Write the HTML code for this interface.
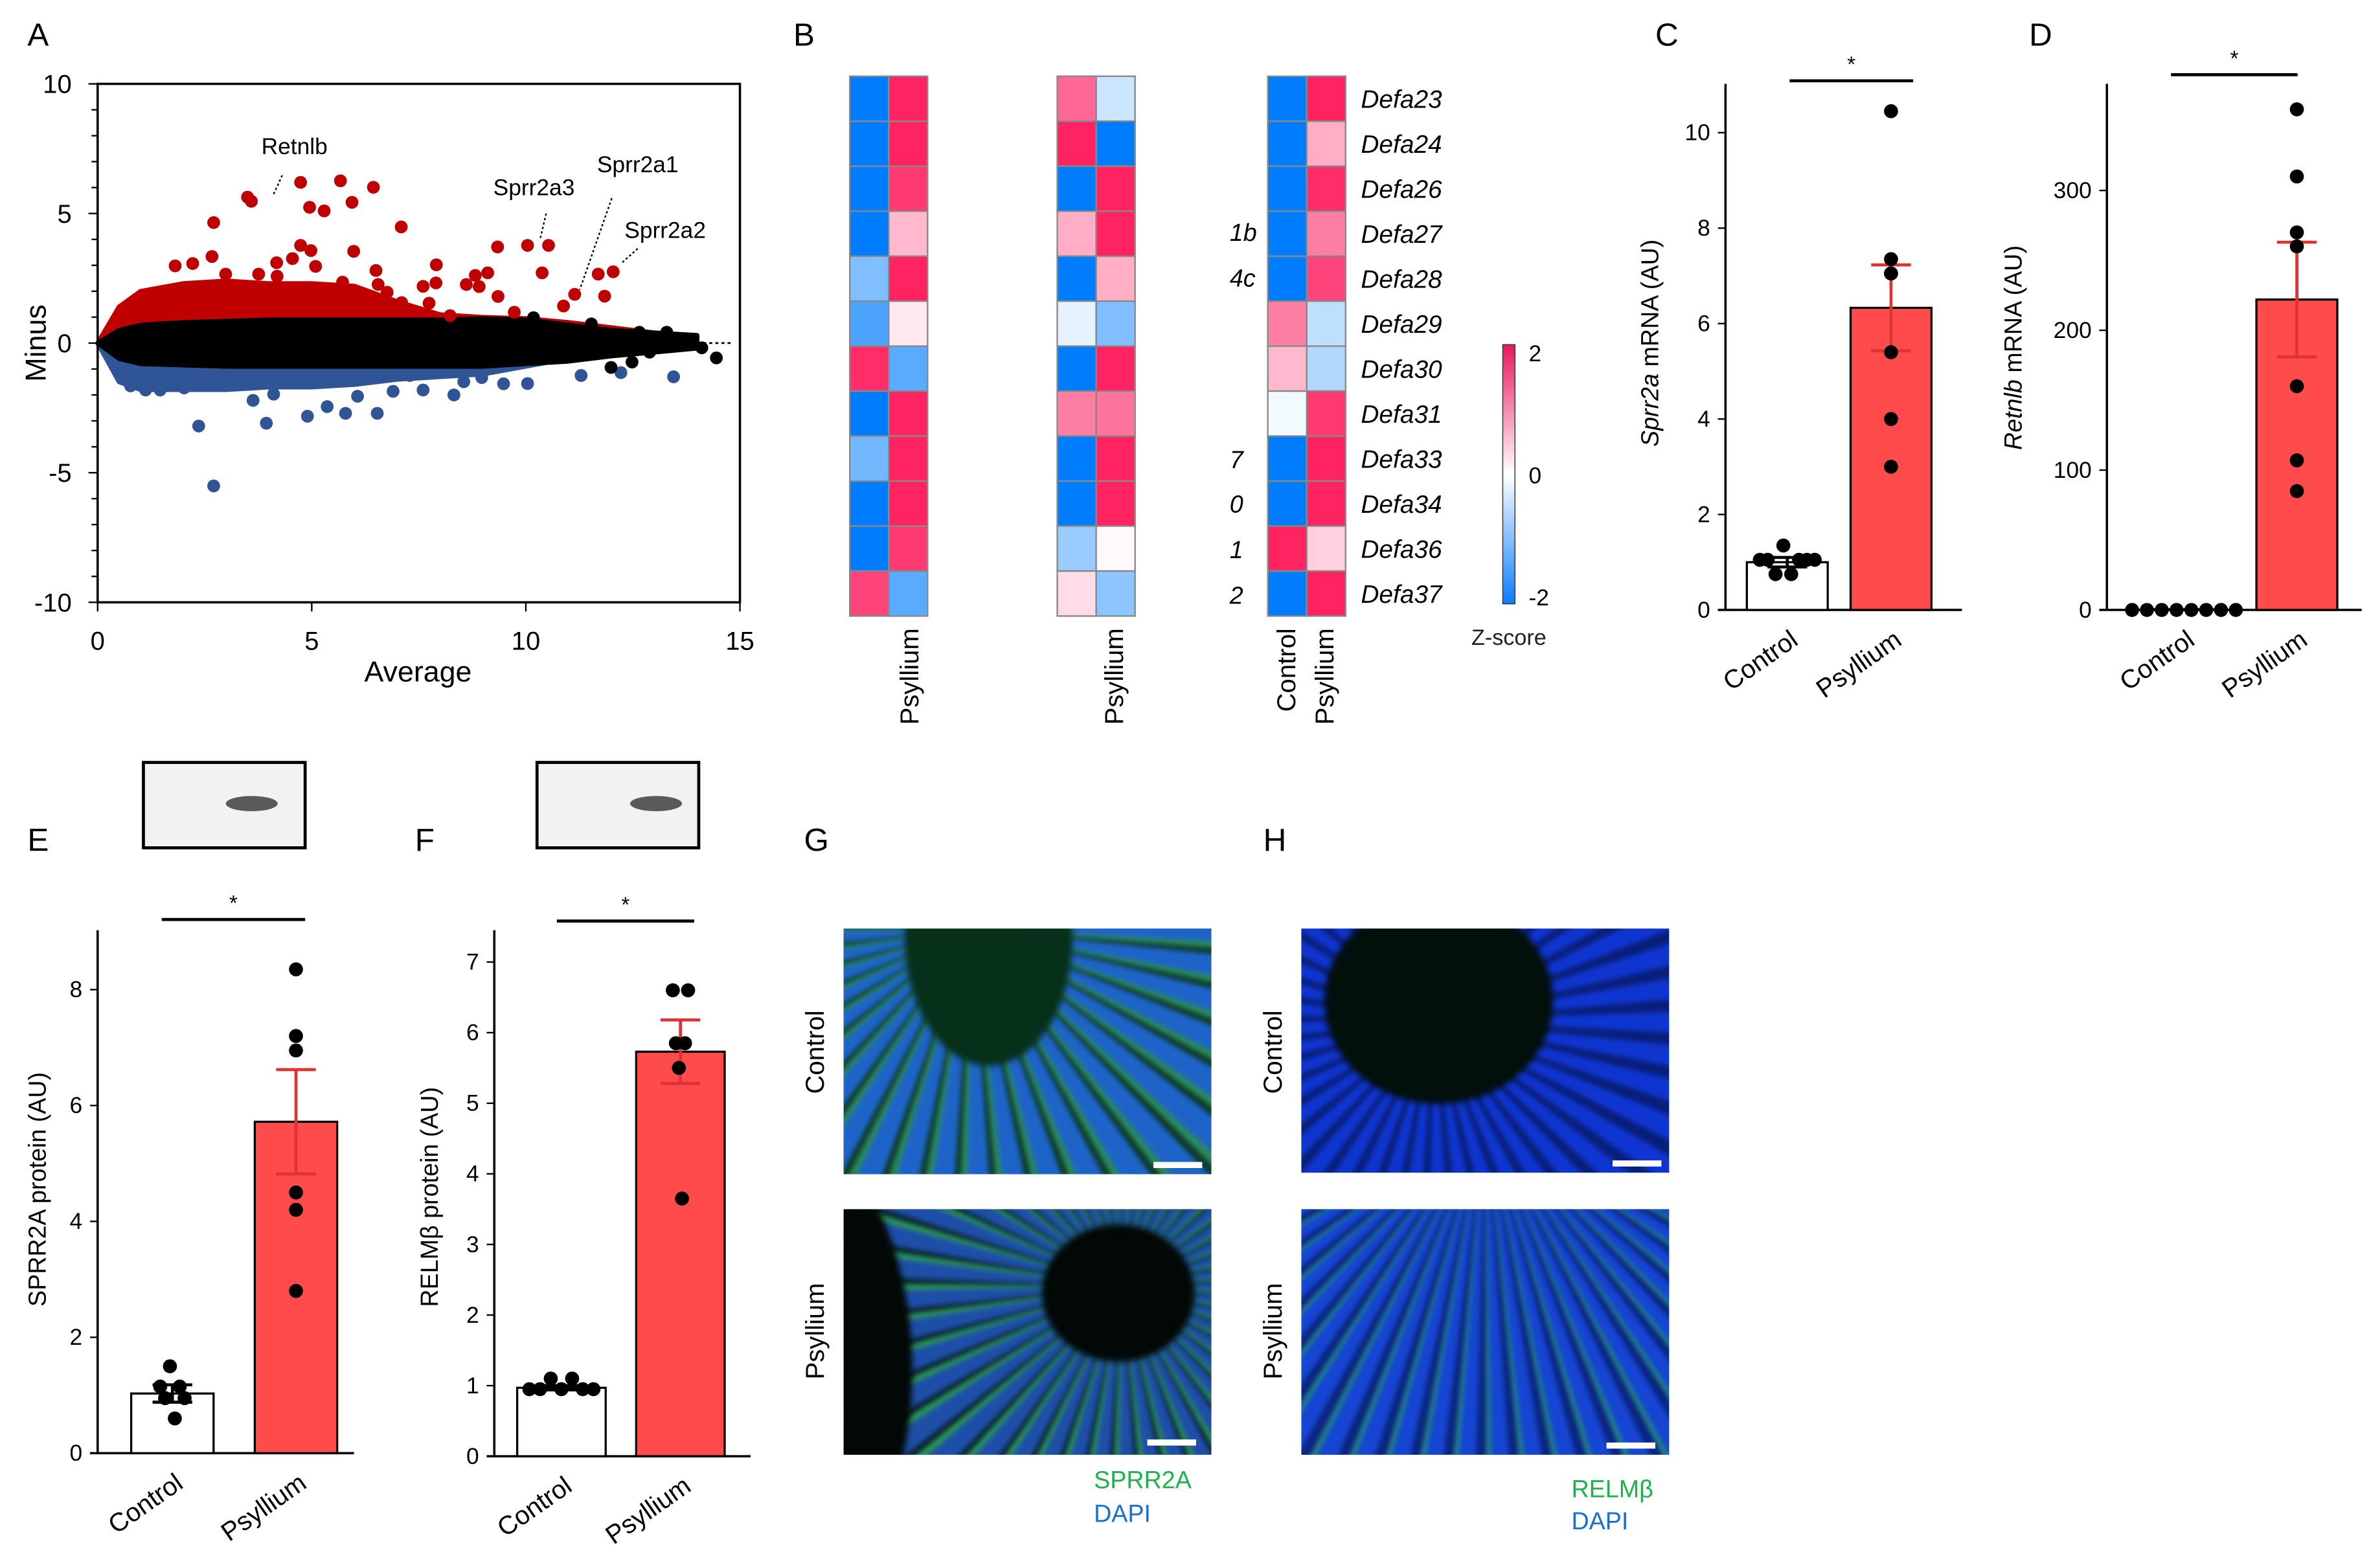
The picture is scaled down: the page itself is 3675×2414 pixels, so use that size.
<!DOCTYPE html>
<html><head><meta charset="utf-8"><style>
html,body{margin:0;padding:0;background:#fff;overflow:hidden}
#wrap{position:absolute;left:0;top:0;width:1560px;height:1025px;transform-origin:0 0;transform:scale(2.35577,2.3551);font-family:"Liberation Sans",sans-serif}
svg{position:absolute;left:0;top:0}
.img{position:absolute;overflow:hidden}
.st{position:absolute;left:-20px;top:-20px;right:-20px;bottom:-20px;filter:blur(1.6px)}
.lum{position:absolute;border-radius:50%;filter:blur(2px)}
</style></head><body>
<div id="wrap">
<div class="img" style="left:553px;top:609px;width:241px;height:161px;background:#1b5a8a">
<div class="st" style="background:repeating-conic-gradient(from 0deg at 37% 10%, #1e64c8 0deg 5deg, #2a8a5a 5deg 6.5deg, #0c3a28 6.5deg 8deg)"></div>
<div class="lum" style="left:40px;top:-80px;width:110px;height:170px;background:#07301a"></div></div>
<div class="img" style="left:553px;top:793px;width:241px;height:161px;background:#16407a">
<div class="st" style="background:repeating-conic-gradient(from 0deg at 72% 35%, #1e4fa8 0deg 5deg, #2a9a55 5deg 6.5deg, #0a2230 6.5deg 8deg)"></div>
<div class="lum" style="left:-150px;top:-60px;width:195px;height:330px;background:#020805"></div>
<div class="lum" style="left:130px;top:10px;width:100px;height:90px;background:#020805"></div></div>
<div class="img" style="left:853px;top:609px;width:241px;height:160px;background:#0c2aa0">
<div class="st" style="background:repeating-conic-gradient(from 0deg at 38% 40%, #0f35d0 0deg 5deg, #081f78 5deg 8deg)"></div>
<div class="lum" style="left:15px;top:-20px;width:150px;height:135px;background:#01100a"></div></div>
<div class="img" style="left:853px;top:793px;width:241px;height:161px;background:#1236b8">
<div class="st" style="background:repeating-conic-gradient(from 0deg at 50% -20%, #1545d2 0deg 3deg, #248a80 3deg 3.8deg, #0a2580 3.8deg 5.5deg)"></div></div>
<svg id="s" width="1560" height="1025" viewBox="0 0 1560 1025"></svg>
</div>
<script>
// ---- Panel A data ----
const maAvg=[0,0.5,1,2,3,4,5,6,7,8,9,10,11,12,13,14];
const redUp=[0,1.4,2.0,2.3,2.4,2.3,2.3,2.2,1.6,1.1,1.0,0.95,0.8,0.6,0.4,0.3];
const blkUp=[0,0.5,0.7,0.8,0.85,0.9,0.9,0.9,0.9,0.9,0.95,0.9,0.7,0.5,0.4,0.3];
const blkLo=[0,-0.6,-0.8,-0.85,-0.9,-0.9,-0.9,-0.9,-0.9,-0.9,-0.9,-0.8,-0.7,-0.5,-0.35,-0.2];
const bluLo=[0,-1.5,-1.8,-1.8,-1.8,-1.7,-1.7,-1.6,-1.4,-1.3,-1.2,-0.9,-0.6,-0.5,-0.3,-0.2];
const redX=[4.74,5.67,6.44,3.50,3.59,4.95,5.29,5.94,2.71,7.09,4.74,4.98,5.98,9.34,10.04,10.53,10.38,12.04,11.69,11.84,11.14,10.88,2.67,4.55,4.18,5.09,6.50,7.91,9.11,8.82,9.35,8.91,8.61,7.60,7.90,7.74,9.73,8.23,7.10,2.22,1.81,2.99,3.76,4.19,5.72,6.55,6.76];
const redY=[6.20,6.26,6.01,5.63,5.47,5.24,5.10,5.43,4.65,4.48,3.77,3.57,3.54,3.71,3.77,3.77,2.71,2.75,2.66,1.81,1.88,1.43,3.34,3.26,3.10,2.96,2.80,3.02,2.71,2.61,1.80,2.18,2.26,2.19,2.32,1.54,1.19,1.06,1.56,3.07,2.98,2.66,2.66,2.58,2.35,2.26,1.96];
const bluX=[2.36,2.71,3.94,4.90,5.36,5.79,6.53,6.07,6.90,7.60,8.32,11.29,13.45,12.22,10.04,9.48,8.97,8.55,7.29,3.63,4.11,1.12,1.46,2.02,2.95,0.77];
const bluY=[-3.20,-5.51,-3.09,-2.82,-2.45,-2.71,-2.71,-2.05,-1.86,-1.81,-2.00,-1.25,-1.30,-1.14,-1.56,-1.57,-1.33,-1.49,-1.25,-2.21,-1.97,-1.81,-1.81,-1.73,-1.57,-1.65];
const bkX=[13.29,14.11,14.45,12.89,11.99,12.48,12.19,12.65,11.53,10.18];
const bkY=[0.42,-0.18,-0.57,-0.35,-0.94,-0.73,0.27,0.42,0.74,0.98];
// ---- Panel B data ----
const genes=["Defa23","Defa24","Defa26","Defa27","Defa28","Defa29","Defa30","Defa31","Defa33","Defa34","Defa36","Defa37"];
const hm1c=[-2,-2,-2,-2,-1,-1.4,1.8,-2,-1.1,-2,-2,1.6];
const hm1p=[1.9,1.9,1.7,0.6,1.9,0.2,-1.3,1.9,1.9,1.9,1.7,-1.3];
const hm2c=[1.3,1.9,-2,0.7,-2,-0.2,-2,1.1,-2,-2,-0.8,0.3];
const hm2p=[-0.4,-2,1.9,1.9,0.7,-1.0,1.9,1.2,1.9,1.9,0.05,-0.9];
const hm3c=[-2,-2,-2,-2,-2,1.1,0.6,-0.1,-2,-2,1.9,-2];
const hm3p=[1.9,0.7,1.8,1.1,1.6,-0.5,-0.6,1.7,1.9,1.9,0.4,1.9];
const zTicks=[2,0,-2];
// ---- Bar panels ----
const cMeans=[1.0,6.33], cErr=[0.1,0.9], cCtrl=[1.05,1.05,0.75,1.35,0.75,1.05,1.05,1.05], cPsy=[10.45,7.35,7.05,7.05,5.4,4.0,3.0];
const cTicks=[0,2,4,6,8,10];
const dMeans=[0.5,222], dErr=[0,41], dCtrl=[0,0,0,0,0,0,0,0], dPsy=[358,310,270,260,160,107,85];
const dTicks=[0,100,200,300];
const eMeans=[1.03,5.72], eErr=[0.15,0.9], eCtrl=[1.15,0.95,1.5,0.6,1.15,0.95], ePsy=[8.35,7.2,6.95,4.5,4.2,2.8];
const eTicks=[0,2,4,6,8];
const fMeans=[0.97,5.73], fErr=[0.03,0.45], fCtrl=[0.95,0.95,1.1,0.95,1.1,0.95,0.95], fPsy=[6.6,5.85,5.5,3.65,5.85,6.6];
const fTicks=[0,1,2,3,4,5,6,7];

const S=document.getElementById('s');const NS='http://www.w3.org/2000/svg';
function el(t,a,txt){const e=document.createElementNS(NS,t);for(const k in a)e.setAttribute(k,a[k]);if(txt!==undefined)e.textContent=txt;S.appendChild(e);return e;}
function T(x,y,s,o){return el('text',Object.assign({x:x,y:y,'font-size':16,fill:'#000'},o||{}),s);}
[["A",18,30],["B",520,30],["C",1085,30],["D",1330,30],["E",18,558],["F",272,558],["G",527,558],["H",828,558]].forEach(l=>{
const e=T(l[1],l[2],l[0],{'font-size':21});

});

// ---- Panel A ----
const ax=v=>64+v*(485-64)/15, ay=v=>225-v*17;
function band(up,lo,col,name){let d='M'+maAvg.map((a,i)=>ax(a)+','+ay(up[i])).join('L')+'L'+maAvg.slice().reverse().map((a,i)=>ax(a)+','+ay(lo[lo.length-1-i])).join('L')+'Z';
const p=el('path',{d:d,fill:col,stroke:col,'stroke-width':3,'stroke-linejoin':'round'});}
band(redUp,blkLo,'#c00000','red-point-cloud');
band(blkLo,bluLo,'#2f5597','blue-point-cloud');
band(blkUp,blkLo,'#000','black-point-cloud');
function pts(X,Y,col,name){X.forEach((x,i)=>{const c=el('circle',{cx:ax(x),cy:ay(Y[i]),r:4.2,fill:col});});}
pts(redX,redY,'#c00000','up-gene-point');pts(bluX,bluY,'#2f5597','down-gene-point');pts(bkX,bkY,'#000','ns-gene-point');
el('line',{x1:ax(13.0),y1:ay(0),x2:ax(14.8),y2:ay(0),stroke:'#000','stroke-width':1.2,'stroke-dasharray':'2,2'});
const fr=el('rect',{x:64,y:55,width:421,height:340,fill:'none',stroke:'#000','stroke-width':1.5});
for(let v=-10;v<=10;v++){const L=v%5==0?6:4;el('line',{x1:64-L,y1:ay(v),x2:64,y2:ay(v),stroke:'#000','stroke-width':1});}
[10,5,0,-5,-10].forEach(v=>T(47,ay(v)+6,String(v),{'text-anchor':'end','font-size':17}));
[0,5,10,15].forEach(v=>{el('line',{x1:ax(v),y1:395,x2:ax(v),y2:401,stroke:'#000'});T(ax(v),426,String(v),{'text-anchor':'middle','font-size':17});});
const xt=T(274,447,'Average',{'text-anchor':'middle','font-size':19});
const yt=T(30,225,'Minus',{'text-anchor':'middle','font-size':19,transform:'rotate(-90 30 225)'});
[["Retnlb",193,101,185,115,179,128],["Sprr2a3",350,128,358,140,354,157],["Sprr2a1",418,113,401,130,380,190],["Sprr2a2",436,156,418,163,408,172]].forEach(g=>{
const t=T(g[1],g[2],g[0],{'text-anchor':'middle','font-size':15});
el('line',{x1:g[3],y1:g[4],x2:g[5],y2:g[6],stroke:'#000','stroke-width':1,'stroke-dasharray':'1.5,1.5'});});

// ---- Panel B ----
function zcol(v){v=Math.max(-2,Math.min(2,v));const t=Math.abs(v)/2;let r,g,b;
if(v>=0){r=255;g=255+(23-255)*t;b=255+(90-255)*t;}else{r=255-255*t;g=255+(125-255)*t;b=255;}
return `rgb(${Math.round(r)},${Math.round(g)},${Math.round(b)})`;}
const hy0=50,rh=(404-50)/12;
function hm(x,vals,name){vals.forEach((v,i)=>{const r=el('rect',{x:x,y:hy0+i*rh,width:25.5,height:rh,fill:zcol(v),stroke:'#888','stroke-width':1});
});}
hm(557,hm1c,'heat-cell-1c');hm(582.5,hm1p,'heat-cell-1p');hm(693,hm2c,'heat-cell-2c');hm(718.5,hm2p,'heat-cell-2p');hm(831,hm3c,'heat-cell-3c');hm(856.5,hm3p,'heat-cell-3p');
genes.forEach((g,i)=>{const t=T(892,hy0+i*rh+rh/2+6,g,{'font-size':16.5,'font-style':'italic'});});
[["1b",152],["4c",182],["7",301],["0",330],["1",360],["2",390]].forEach(l=>T(806,l[1]+6,l[0],{'font-size':16,'font-style':'italic'}));
[[596,'Psyllium'],[730,'Psyllium'],[868,'Psyllium'],[843,'Control']].forEach(c=>{const t=T(c[0]+6,412,c[1],{'font-size':17,'text-anchor':'end',transform:`rotate(-90 ${c[0]+6} 412)`});});
const defs=el('defs',{});const gd=document.createElementNS(NS,'linearGradient');
[['id','zg'],['x1',0],['y1',0],['x2',0],['y2',1]].forEach(a=>gd.setAttribute(a[0],a[1]));
[[0,'#e8185a'],[0.5,'#ffffff'],[1,'#0a7cff']].forEach(s=>{const st=document.createElementNS(NS,'stop');st.setAttribute('offset',s[0]);st.setAttribute('stop-color',s[1]);gd.appendChild(st);});
defs.appendChild(gd);
const cb=el('rect',{x:985,y:226,width:8,height:170,fill:'url(#zg)',stroke:'#333','stroke-width':0.6});
zTicks.forEach(v=>T(1002,311-v*40+6,String(v),{'font-size':15}));
T(989,423,'Z-score',{'font-size':14.5,'text-anchor':'middle','fill':'#222'});

// ---- Bar chart function ----
function bars(o){const y=v=>o.y0-v*o.k;
el('line',{x1:o.ax,y1:o.top,x2:o.ax,y2:o.y0,stroke:'#000','stroke-width':1.5});
el('line',{x1:o.ax-5,y1:o.y0,x2:o.xr,y2:o.y0,stroke:'#000','stroke-width':1.5});
o.ticks.forEach(v=>{el('line',{x1:o.ax-5,y1:y(v),x2:o.ax,y2:y(v),stroke:'#000'});T(o.ax-10,y(v)+5,String(v),{'text-anchor':'end','font-size':15});});
const cols=['#fff','#ff4b4b'];
o.means.forEach((m,i)=>{const b=el('rect',{x:o.bx[i],y:y(m),width:o.bw,height:o.y0-y(m),fill:cols[i],stroke:'#000','stroke-width':1.4});

const cx=o.bx[i]+o.bw/2,ec=i?'#d33':'#000';
if(o.err[i]>0){el('line',{x1:cx,y1:y(m-o.err[i]),x2:cx,y2:y(m+o.err[i]),stroke:ec,'stroke-width':2});
[m-o.err[i],m+o.err[i]].forEach(v=>el('line',{x1:cx-13,y1:y(v),x2:cx+13,y2:y(v),stroke:ec,'stroke-width':2}));}
const P=i?o.psy:o.ctrl;P.forEach((v,j)=>{const n=P.length;const off=(j-(n-1)/2)*(o.spread[i]/Math.max(1,n-1));
const c=el('circle',{cx:cx+off,cy:y(v),r:4.6,fill:'#000'});});});
el('line',{x1:o.sig[0],y1:o.sig[2],x2:o.sig[1],y2:o.sig[2],stroke:'#000','stroke-width':2});
T((o.sig[0]+o.sig[1])/2,o.sig[2]-6,'*',{'text-anchor':'middle','font-size':14});
['Control','Psyllium'].forEach((s,i)=>{const cx=o.bx[i]+o.bw/2+8,ly=o.y0+22;const t=T(cx,ly,s,{'text-anchor':'end','font-size':17,transform:`rotate(-35 ${cx} ${ly})`});});
const tt=el('text',{x:o.tx,y:o.ty,'font-size':16,'text-anchor':'middle',transform:`rotate(-90 ${o.tx} ${o.ty})`});

o.title.forEach(p=>{const ts=document.createElementNS(NS,'tspan');ts.textContent=p[0];if(p[1])ts.setAttribute('font-style','italic');tt.appendChild(ts);});}
bars({ax:1131,top:55,y0:400,k:31.3,xr:1286,ticks:cTicks,means:cMeans,err:cErr,ctrl:cCtrl,psy:cPsy,bx:[1145,1213],bw:53,spread:[36,0],sig:[1173,1254,53],tx:1087,ty:225,title:[["Sprr2a",1],[" mRNA (AU)",0]]});
bars({ax:1381,top:55,y0:400,k:0.917,xr:1548,ticks:dTicks,means:dMeans,err:dErr,ctrl:dCtrl,psy:dPsy,bx:[1405,1479],bw:53,spread:[68,0],sig:[1423,1506,49],tx:1325,ty:228,title:[["Retnlb",1],[" mRNA (AU)",0]]});
bars({ax:64,top:610,y0:953,k:38,xr:232,ticks:eTicks,means:eMeans,err:eErr,ctrl:eCtrl,psy:ePsy,bx:[86,167],bw:54,spread:[16,0],sig:[106,200,603],tx:30,ty:780,title:[["SPRR2A protein (AU)",0]]});
bars({ax:324,top:610,y0:955,k:46.3,xr:492,ticks:fTicks,means:fMeans,err:fErr,ctrl:fCtrl,psy:fPsy,bx:[339,417],bw:58,spread:[42,10],sig:[365,455,604],tx:287,ty:785,title:[["RELMβ protein (AU)",0]]});
// western blots
[[94,165],[352,430]].forEach((b,i)=>{const r=el('rect',{x:b[0],y:500,width:106,height:56,fill:'#f2f2f2',stroke:'#000','stroke-width':2});
el('ellipse',{cx:b[1],cy:527,rx:17,ry:5,fill:'#333',opacity:0.8});});
[[540,690,'Control'],[540,873,'Psyllium'],[840,690,'Control'],[840,873,'Psyllium']].forEach(l=>T(l[0],l[1],l[2],{'font-size':17,'text-anchor':'middle',transform:`rotate(-90 ${l[0]} ${l[1]})`}));
[[756,762],[752,944],[1057,761],[1053,946]].forEach(s=>el('rect',{x:s[0],y:s[1],width:32,height:4,fill:'#fff'}));
T(717,976,'SPRR2A',{'font-size':16,fill:'#1db34a'});T(717,998,'DAPI',{'font-size':16,fill:'#1a6fd0'});
T(1030,982,'RELMβ',{'font-size':16,fill:'#1db34a'});T(1030,1003,'DAPI',{'font-size':16,fill:'#1a6fd0'});
</script>
</body></html>
